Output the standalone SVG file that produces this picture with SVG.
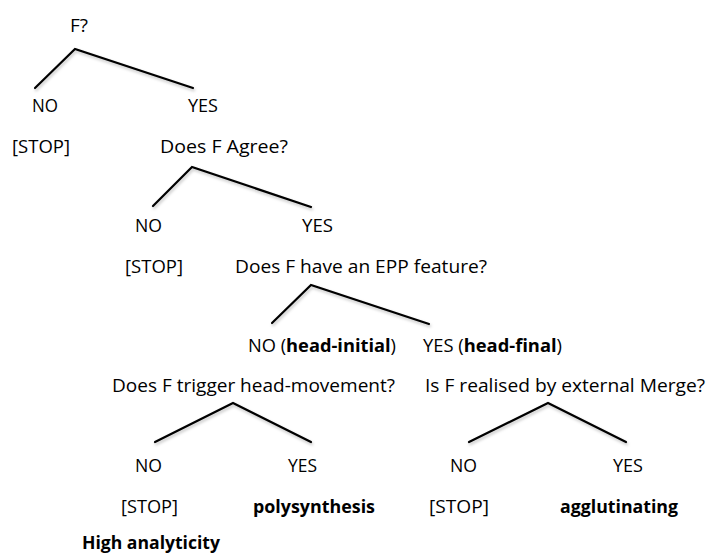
<svg xmlns="http://www.w3.org/2000/svg" width="709" height="553" viewBox="0 0 709 553">
<defs>
<filter id="sh" x="-10%" y="-30%" width="130%" height="180%">
<feDropShadow dx="1" dy="2" stdDeviation="1.5" flood-color="#000" flood-opacity="0.25"/>
</filter>
<style>
text{font-family:"Open Sans","Liberation Sans",sans-serif;font-size:18px;fill:#000}
.b{font-weight:bold}
.e{fill:none;stroke:#000;stroke-width:2.2;stroke-linecap:round;stroke-linejoin:miter;filter:url(#sh)}
</style>
</defs>
<rect width="709" height="553" fill="#fff"/>
<g id="connectors">
<polyline class="e" points="35,88 75,49 193,88"/>
<polyline class="e" points="153,206 192,167 311,207"/>
<polyline class="e" points="272,323 311,285 429,324"/>
<polyline class="e" points="155,442 233,403 311,442"/>
<polyline class="e" points="469,442 548,403 626,442"/>
</g>
<g id="n-f"><text x="70" y="32" textLength="18" lengthAdjust="spacingAndGlyphs">F?</text></g>
<g id="n1-no"><text x="32" y="112" textLength="26" lengthAdjust="spacingAndGlyphs">NO</text></g>
<g id="n1-yes"><text x="188" y="112" textLength="30" lengthAdjust="spacingAndGlyphs">YES</text></g>
<g id="n1-stop"><text x="12" y="153" textLength="58" lengthAdjust="spacingAndGlyphs">[STOP]</text></g>
<g id="n-agree"><text x="160" y="153" textLength="128" lengthAdjust="spacingAndGlyphs">Does F Agree?</text></g>
<g id="n2-no"><text x="135" y="232" textLength="27" lengthAdjust="spacingAndGlyphs">NO</text></g>
<g id="n2-yes"><text x="302" y="232" textLength="31" lengthAdjust="spacingAndGlyphs">YES</text></g>
<g id="n2-stop"><text x="125" y="273" textLength="58" lengthAdjust="spacingAndGlyphs">[STOP]</text></g>
<g id="n-epp"><text x="235" y="273" textLength="252" lengthAdjust="spacingAndGlyphs">Does F have an EPP feature?</text></g>
<g id="n3-no"><text x="248" y="352" textLength="148" lengthAdjust="spacingAndGlyphs">NO (<tspan class="b">head-initial</tspan>)</text></g>
<g id="n3-yes"><text x="423" y="352" textLength="139" lengthAdjust="spacingAndGlyphs">YES (<tspan class="b">head-final</tspan>)</text></g>
<g id="n-headmove"><text x="112" y="392" textLength="283" lengthAdjust="spacingAndGlyphs">Does F trigger head-movement?</text></g>
<g id="n-extmerge"><text x="425" y="392" textLength="280" lengthAdjust="spacingAndGlyphs">Is F realised by external Merge?</text></g>
<g id="n4-no"><text x="135" y="472" textLength="27" lengthAdjust="spacingAndGlyphs">NO</text></g>
<g id="n4-yes"><text x="288" y="472" textLength="29" lengthAdjust="spacingAndGlyphs">YES</text></g>
<g id="n5-no"><text x="450" y="472" textLength="27" lengthAdjust="spacingAndGlyphs">NO</text></g>
<g id="n5-yes"><text x="613" y="472" textLength="30" lengthAdjust="spacingAndGlyphs">YES</text></g>
<g id="n4-stop"><text x="121" y="513" textLength="57" lengthAdjust="spacingAndGlyphs">[STOP]</text></g>
<g id="n-poly"><text class="b" x="253" y="513" textLength="122" lengthAdjust="spacingAndGlyphs">polysynthesis</text></g>
<g id="n5-stop"><text x="429" y="513" textLength="60" lengthAdjust="spacingAndGlyphs">[STOP]</text></g>
<g id="n-agglut"><text class="b" x="560" y="513" textLength="118" lengthAdjust="spacingAndGlyphs">agglutinating</text></g>
<g id="n-analytic"><text class="b" x="82" y="549" textLength="138" lengthAdjust="spacingAndGlyphs">High analyticity</text></g>
</svg>
